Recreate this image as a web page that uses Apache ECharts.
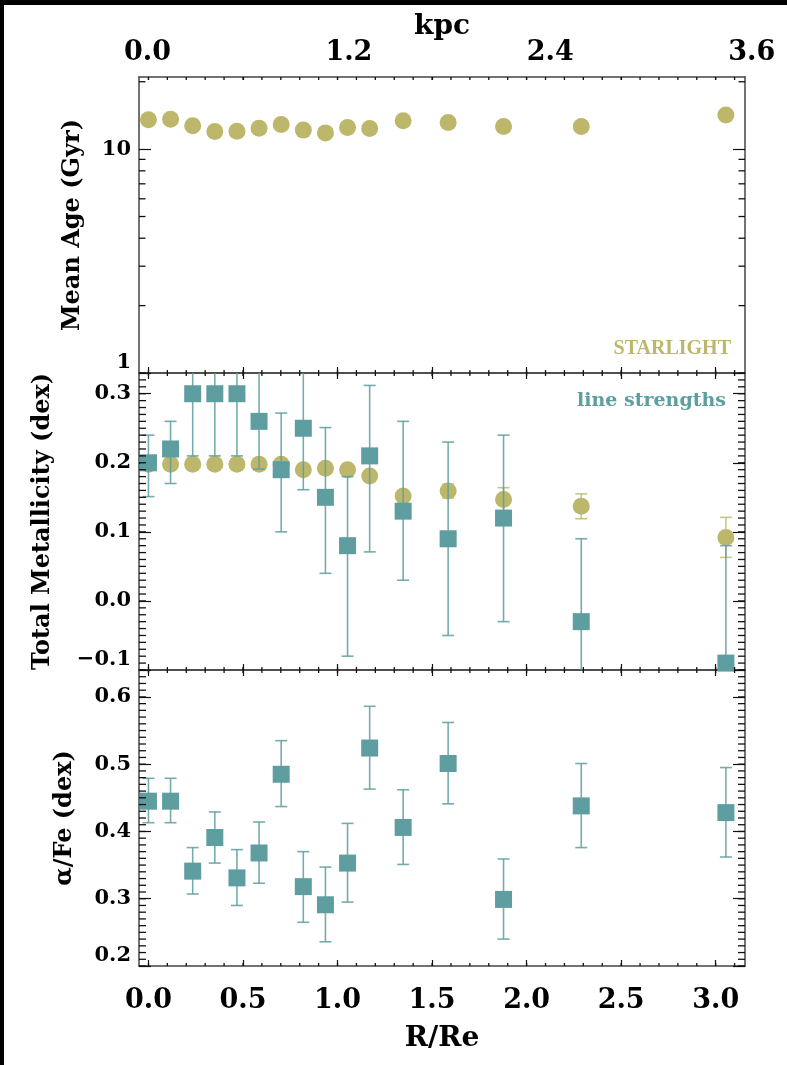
<!DOCTYPE html>
<html><head><meta charset="utf-8">
<script src="https://cdn.jsdelivr.net/npm/echarts@6/dist/echarts.min.js"></script>
<style>html,body{margin:0;padding:0;background:#fff;}#c{width:787px;height:1065px;}</style>
</head><body><div id="c"></div>
<script>
// ---- data ----
const radius = [0.0, 0.117, 0.234, 0.351, 0.468, 0.585, 0.702, 0.819, 0.936, 1.053, 1.17, 1.347, 1.585, 1.878, 2.289, 3.054];
const ageStarlight = [13.52, 13.61, 12.71, 11.98, 12.03, 12.41, 12.88, 12.16, 11.82, 12.49, 12.36, 13.38, 13.15, 12.61, 12.61, 14.22];
const zStarlight = [0.198, 0.198, 0.198, 0.198, 0.198, 0.198, 0.198, 0.190, 0.192, 0.190, 0.181, 0.152, 0.159, 0.147, 0.137, 0.092];
const zStarlightErr = [0.004, 0.004, 0.004, 0.004, 0.004, 0.004, 0.004, 0.004, 0.004, 0.004, 0.004, 0.006, 0.010, 0.017, 0.018, 0.029];
const zLines = [0.20, 0.22, 0.30, 0.30, 0.30, 0.26, 0.19, 0.25, 0.15, 0.08, 0.21, 0.13, 0.09, 0.12, -0.03, -0.09];
const zLinesLo = [0.151, 0.170, 0.21, 0.21, 0.21, 0.191, 0.10, 0.161, 0.04, -0.08, 0.071, 0.03, -0.05, -0.03, -0.15, -0.26];
const zLinesHi = [0.240, 0.260, 0.39, 0.39, 0.39, 0.34, 0.272, 0.34, 0.251, 0.18, 0.312, 0.26, 0.23, 0.24, 0.09, 0.08];
const afe = [0.445, 0.445, 0.341, 0.391, 0.331, 0.368, 0.485, 0.318, 0.291, 0.353, 0.524, 0.406, 0.501, 0.299, 0.438, 0.428];
const afeLo = [0.413, 0.413, 0.307, 0.353, 0.290, 0.323, 0.437, 0.265, 0.236, 0.295, 0.463, 0.351, 0.441, 0.240, 0.376, 0.362];
const afeHi = [0.479, 0.479, 0.376, 0.429, 0.373, 0.414, 0.535, 0.370, 0.347, 0.412, 0.586, 0.462, 0.562, 0.359, 0.501, 0.495];

// ---- tick labels / tick positions ----
const xMajor = [0, 0.5, 1.0, 1.5, 2.0, 2.5, 3.0];
const kpcTicks = [0, 1.2, 2.4, 3.6];
const ageLabels = [1, 10];
const ageMinor = [2, 3, 4, 5, 6, 7, 8, 9, 20];
const zMajor = [-0.1, 0.0, 0.1, 0.2, 0.3];
const afeMajor = [0.2, 0.3, 0.4, 0.5, 0.6];
const xMinor = []; for (let i = 0; i <= 31; i++) xMinor.push(i / 10);
const zMinor = []; for (let i = -10; i <= 33; i++) zMinor.push(i / 100);
const afeMinor = []; for (let i = 20; i <= 64; i++) afeMinor.push(i / 100);

const X_MIN = -0.05, X_MAX = 3.155;
const Z_MIN = -0.1, Z_MAX = 0.33;
const AFE_MIN = 0.2, AFE_MAX = 0.64;
const AGE_MIN = 1, AGE_MAX = 21;
const ageLogMax = Math.log10(AGE_MAX);

const GOLD = '#BDB76B', TEAL = '#5F9EA0';
const FONT = 'DejaVu Serif';
const lineC = '#444';

const grids = [
  { left: 139, top: 77, width: 606, height: 296 },
  { left: 139, top: 373, width: 606, height: 297 },
  { left: 139, top: 670, width: 606, height: 296 },
  { left: 147.5, top: 77, width: 604.2, height: 296 } // kpc labels
];

function fmt1(v) { return v < 0 ? '\u2212' + Math.abs(v).toFixed(1) : v.toFixed(1); }

function customAx(grid, pos, min, max, len, vals, showLine, extra) {
  return Object.assign({
    type: 'value', gridIndex: grid, position: pos, min: min, max: max,
    axisLine: { show: showLine, onZero: false, lineStyle: { color: lineC, width: 1.5 } },
    axisTick: { show: true, inside: true, length: len, customValues: vals, lineStyle: { color: '#111', width: 1.2 } },
    axisLabel: { show: false }, splitLine: { show: false }
  }, extra || {});
}
const nameFont = { fontFamily: FONT, fontWeight: 'bold', color: '#000' };

// ---- x axes: panel g -> bottom 2g, top 2g+1 ; kpc labels 6 ----
const xAxes = [];
for (let g = 0; g < 3; g++) {
  xAxes.push(customAx(g, 'bottom', X_MIN, X_MAX, 6, xMajor, true, g === 2 ? {
    axisLabel: { show: true, customValues: xMajor, formatter: fmt1, margin: 21,
      fontFamily: FONT, fontWeight: 'bold', fontSize: 27, color: '#000' },
    name: 'R/Re', nameLocation: 'middle', nameGap: 59,
    nameTextStyle: Object.assign({ fontSize: 28 }, nameFont)
  } : {}));
  xAxes.push(customAx(g, 'top', X_MIN, X_MAX, g === 0 ? 3 : 6, xMajor, true, g === 0 ? {
    name: 'kpc', nameLocation: 'middle', nameGap: 36,
    nameTextStyle: Object.assign({ fontSize: 28 }, nameFont)
  } : {}));
}
xAxes.push({
  type: 'value', gridIndex: 3, position: 'top', min: 0, max: 3.6,
  axisLine: { show: false, onZero: false }, axisTick: { show: false }, splitLine: { show: false },
  axisLabel: { show: true, customValues: kpcTicks, formatter: v => v.toFixed(1), margin: 11,
    fontFamily: FONT, fontWeight: 'bold', fontSize: 27, color: '#000' }
});

// ---- y axes ----
const ylabel = (fmt, vals) => ({ show: true, formatter: fmt, margin: 8, customValues: vals,
  fontFamily: FONT, fontWeight: 'bold', fontSize: 21, color: '#000', verticalAlignMinLabel: 'bottom' });
const yname = Object.assign({ fontSize: 24 }, nameFont);
const ageLabelPos = ageLabels.map(v => Math.log10(v));

const yAxes = [
  { type: 'log', logBase: 10, gridIndex: 0, position: 'left', min: AGE_MIN, max: AGE_MAX,
    axisLine: { show: true, onZero: false, lineStyle: { color: lineC, width: 1.5 } },
    axisTick: { show: false }, axisLabel: { show: false }, splitLine: { show: false }, minorTick: { show: false } },
  customAx(0, 'left', 0, ageLogMax, 12, ageLabelPos, false, {
    axisLabel: ylabel(v => String(Math.round(Math.pow(10, v))), ageLabelPos),
    name: 'Mean Age (Gyr)', nameLocation: 'middle', nameGap: 54, nameTextStyle: yname }),
  customAx(0, 'right', 0, ageLogMax, 12, ageLabelPos, true),
  customAx(1, 'left', Z_MIN, Z_MAX, 12, zMajor, true, {
    axisLabel: ylabel(fmt1, zMajor),
    name: 'Total Metallicity (dex)', nameLocation: 'middle', nameGap: 84, nameTextStyle: yname }),
  customAx(1, 'right', Z_MIN, Z_MAX, 12, zMajor, true),
  customAx(2, 'left', AFE_MIN, AFE_MAX, 12, afeMajor, true, {
    axisLabel: ylabel(fmt1, afeMajor),
    name: '\u03b1/Fe (dex)', nameLocation: 'middle', nameGap: 62, nameTextStyle: yname }),
  customAx(2, 'right', AFE_MIN, AFE_MAX, 12, afeMajor, true),
  { type: 'value', gridIndex: 3, show: false, min: 0, max: 1 }
];
const Y_DATA = [0, 3, 5];

function errRender(color, opacity, capW) {
  return function (params, api) {
    const x = api.value(0), lo = api.value(1), hi = api.value(2);
    const p1 = api.coord([x, lo]), p2 = api.coord([x, hi]);
    const cs = params.coordSys;
    const top = cs.y, bot = cs.y + cs.height;
    const clamp = v => Math.min(Math.max(v, top), bot);
    const st = { stroke: color, lineWidth: 1.6, opacity: opacity };
    const ch = [{ type: 'line', shape: { x1: p1[0], y1: clamp(p1[1]), x2: p1[0], y2: clamp(p2[1]) }, style: st }];
    [p1, p2].forEach(p => {
      if (p[1] >= top - 0.5 && p[1] <= bot + 0.5)
        ch.push({ type: 'line', shape: { x1: p[0] - capW / 2, y1: p[1], x2: p[0] + capW / 2, y2: p[1] }, style: st });
    });
    return { type: 'group', children: ch };
  };
}

const series = [
  { type: 'scatter', name: 'age', xAxisIndex: 0, yAxisIndex: 0, symbol: 'circle', symbolSize: 17,
    itemStyle: { color: GOLD, opacity: 1 }, z: 2, data: radius.map((r, i) => [r, ageStarlight[i]]) },
  { type: 'custom', name: 'zStarErr', xAxisIndex: 2, yAxisIndex: 3, z: 1,
    renderItem: errRender(GOLD, 0.8, 12), encode: { x: 0, y: [1, 2] },
    data: radius.map((r, i) => [r, zStarlight[i] - zStarlightErr[i], zStarlight[i] + zStarlightErr[i]]) },
  { type: 'scatter', name: 'zStar', xAxisIndex: 2, yAxisIndex: 3, symbol: 'circle', symbolSize: 17,
    itemStyle: { color: GOLD, opacity: 1 }, z: 2, data: radius.map((r, i) => [r, zStarlight[i]]) },
  { type: 'custom', name: 'zLineErr', xAxisIndex: 2, yAxisIndex: 3, z: 3,
    renderItem: errRender(TEAL, 0.85, 12), encode: { x: 0, y: [1, 2] },
    data: radius.map((r, i) => [r, zLinesLo[i], zLinesHi[i]]) },
  { type: 'scatter', name: 'zLine', xAxisIndex: 2, yAxisIndex: 3, symbol: 'rect', symbolSize: 17,
    itemStyle: { color: TEAL, opacity: 1 }, z: 4, data: radius.map((r, i) => [r, zLines[i]]) },
  { type: 'custom', name: 'afeErr', xAxisIndex: 4, yAxisIndex: 5, z: 3,
    renderItem: errRender(TEAL, 0.85, 12), encode: { x: 0, y: [1, 2] },
    data: radius.map((r, i) => [r, afeLo[i], afeHi[i]]) },
  { type: 'scatter', name: 'afe', xAxisIndex: 4, yAxisIndex: 5, symbol: 'rect', symbolSize: 17,
    itemStyle: { color: TEAL, opacity: 1 }, z: 4, data: radius.map((r, i) => [r, afe[i]]) }
];

const baseGraphics = [
  { type: 'rect', left: 0, top: 0, shape: { width: 787, height: 5 }, style: { fill: '#000' }, silent: true },
  { type: 'rect', left: 0, top: 0, shape: { width: 4, height: 1065 }, style: { fill: '#000' }, silent: true },
  { type: 'text', x: 731, y: 349, style: { text: 'STARLIGHT', fill: GOLD, font: 'bold 20px "Liberation Serif"',
    align: 'right', verticalAlign: 'middle' } },
  { type: 'text', x: 726, y: 401, style: { text: 'line strengths', fill: TEAL, font: 'bold 19px "DejaVu Serif"',
    align: 'right', verticalAlign: 'middle' } }
];

const chart = echarts.init(document.getElementById('c'));
chart.setOption({
  animation: false,
  backgroundColor: '#fff',
  grid: grids,
  xAxis: xAxes,
  yAxis: yAxes,
  series: series,
  graphic: baseGraphics
});

// ---- minor ticks as thin filled rects, positioned through the axes' own scales ----
const tickEls = [];
const TW = 1.3;
function pushTick(x, y, w, h) {
  if (![x, y, w, h].every(isFinite)) return;
  tickEls.push({ type: 'rect', silent: true, z: 100, x: x, y: y,
    shape: { x: 0, y: 0, width: w, height: h }, style: { fill: '#111' } });
}
const yRefs = [2, 0.1, 0.4];
const yMinorSets = [[ageMinor, 6.5], [zMinor, 7], [afeMinor, 7]];
for (let g = 0; g < 3; g++) {
  const b = grids[g];
  const finder = { xAxisIndex: 2 * g, yAxisIndex: Y_DATA[g] };
  xMinor.forEach(v => {
    const p = chart.convertToPixel(finder, [v, yRefs[g]]);
    if (!p) return;
    pushTick(p[0] - TW / 2, b.top, TW, 3);
    pushTick(p[0] - TW / 2, b.top + b.height - 3, TW, 3);
  });
  const len = yMinorSets[g][1];
  yMinorSets[g][0].forEach(v => {
    const p = chart.convertToPixel(finder, [1, v]);
    if (!p) return;
    pushTick(b.left, p[1] - TW / 2, len, TW);
    pushTick(b.left + b.width - len, p[1] - TW / 2, len, TW);
  });
}
chart.setOption({ graphic: baseGraphics.concat(tickEls) });
</script></body></html>
